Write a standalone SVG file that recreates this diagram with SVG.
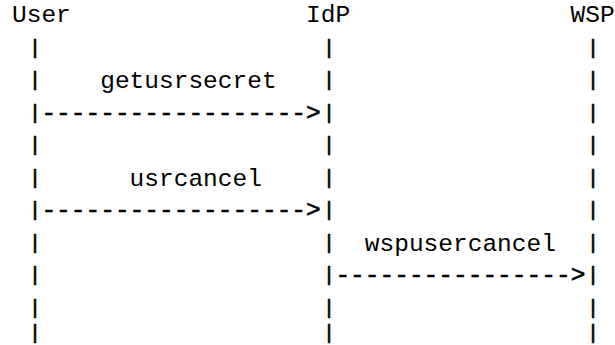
<svg xmlns="http://www.w3.org/2000/svg" width="615" height="345" viewBox="0 0 615 345">
  <style>
    .t { font-family: "Liberation Mono", "DejaVu Sans Mono", monospace; font-size: 24.5px; fill: #000; white-space: pre; }
    .bar { font-family: "Liberation Mono", "DejaVu Sans Mono", monospace; font-size: 20px; fill: #000; stroke: #000; stroke-width: 0.7px; }
    .dash { stroke: #000; stroke-width: 0.6px; }
  </style>
  <rect width="615" height="345" fill="#fff"/>
  <!-- character grid: column c starts at x = 12 + 14.7*c, row r sits 32.5 px below row r-1 -->
  <g id="user">
    <text class="t" x="12" y="22">User</text>
    <text class="bar" x="29" y="53.5">|</text>
    <text class="bar" x="29" y="86">|</text>
    <text class="bar" x="29" y="118.5">|</text>
    <text class="bar" x="29" y="151">|</text>
    <text class="bar" x="29" y="183.5">|</text>
    <text class="bar" x="29" y="216">|</text>
    <text class="bar" x="29" y="248.5">|</text>
    <text class="bar" x="29" y="281">|</text>
    <text class="bar" x="29" y="313.5">|</text>
    <text class="bar" x="29" y="339">|</text>
  </g>
  <g id="idp">
    <text class="t" x="306" y="22">IdP</text>
    <text class="bar" x="323" y="53.5">|</text>
    <text class="bar" x="323" y="86">|</text>
    <text class="bar" x="323" y="118.5">|</text>
    <text class="bar" x="323" y="151">|</text>
    <text class="bar" x="323" y="183.5">|</text>
    <text class="bar" x="323" y="216">|</text>
    <text class="bar" x="323" y="248.5">|</text>
    <text class="bar" x="323" y="281">|</text>
    <text class="bar" x="323" y="313.5">|</text>
    <text class="bar" x="323" y="339">|</text>
  </g>
  <g id="wsp">
    <text class="t" x="570.6" y="22">WSP</text>
    <text class="bar" x="587" y="53.5">|</text>
    <text class="bar" x="587" y="86">|</text>
    <text class="bar" x="587" y="118.5">|</text>
    <text class="bar" x="587" y="151">|</text>
    <text class="bar" x="587" y="183.5">|</text>
    <text class="bar" x="587" y="216">|</text>
    <text class="bar" x="587" y="248.5">|</text>
    <text class="bar" x="587" y="281">|</text>
    <text class="bar" x="587" y="313.5">|</text>
    <text class="bar" x="587" y="339">|</text>
  </g>
  <g id="connectors">
    <g id="msg-getusrsecret">
      <text class="t" x="100.2" y="88">getusrsecret</text>
      <text class="t dash" x="41.4" y="119.5">------------------&gt;</text>
    </g>
    <g id="msg-usrcancel">
      <text class="t" x="129.6" y="185.5">usrcancel</text>
      <text class="t dash" x="41.4" y="217">------------------&gt;</text>
    </g>
    <g id="msg-wspusercancel">
      <text class="t" x="364.8" y="250.5">wspusercancel</text>
      <text class="t dash" x="335.4" y="282">----------------&gt;</text>
    </g>
  </g>
</svg>
